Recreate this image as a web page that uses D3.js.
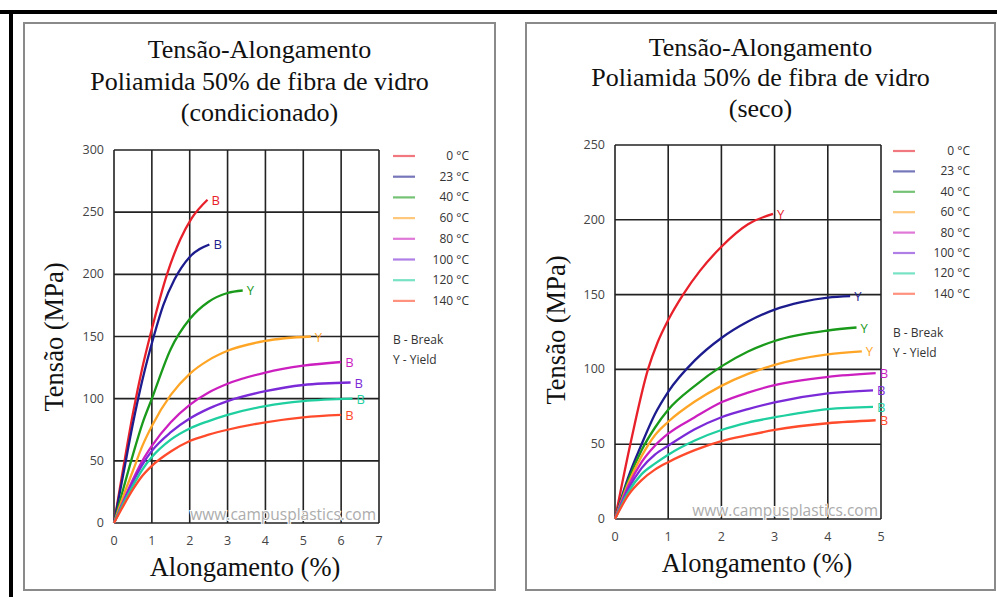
<!DOCTYPE html>
<html>
<head>
<meta charset="utf-8">
<script src="https://d3js.org/d3.v7.min.js"></script>
<style>
  body { margin: 0; background: #fff; }
  .title { font-family: "Liberation Serif", "DejaVu Serif", serif; fill: #111; }
  .tick { font-family: "Open Sans", "Noto Sans", sans-serif; font-size: 12.5px; fill: #444; }
  .leg { font-family: "Open Sans", "Noto Sans", sans-serif; font-size: 12px; fill: #333; }
</style>
</head>
<body>
<svg id="vis"></svg>
<script>
  var width = 997
  var height = 597

  var temps = ['0 °C', '23 °C', '40 °C', '60 °C', '80 °C', '100 °C', '120 °C', '140 °C']
  var colors = ['#e8202a', '#1c1c8e', '#1a9a1a', '#ffa526', '#cc1fbf', '#7b2ad8', '#1fcf9f', '#ff4b2b']

  // condicionado: [elongation %, stress MPa]
  var cond0 = [[0,0],[0.25,45],[0.5,88],[0.75,125],[1,156],[1.4,200],[1.75,228],[2.05,245],[2.47,260]]
  var cond23 = [[0,0],[0.25,40],[0.5,80],[0.75,115],[1.05,150],[1.3,175],[1.6,196],[2,214],[2.52,224]]
  var cond40 = [[0,0],[0.25,28],[0.5,55],[0.75,80],[1,100],[1.5,140],[2,164],[2.5,178],[3,185],[3.4,187]]
  var cond60 = [[0,0],[0.25,22],[0.5,42],[0.75,62],[1,78],[1.5,103],[2,120],[2.5,131],[3,138.5],[4,146.5],[5.2,150]]
  var cond80 = [[0,0],[0.25,18],[0.5,35],[0.75,50],[1,62],[1.5,81],[2,95],[2.5,105],[3,112],[4,121],[5,126.5],[6,129.5]]
  var cond100 = [[0,0],[0.25,17],[0.5,33],[0.75,47],[1,58],[1.5,73],[2,84],[2.5,92],[3,98],[4,106],[5,111],[6.25,113]]
  var cond120 = [[0,0],[0.25,16],[0.5,30],[0.75,43],[1,53],[1.5,67],[2,76],[2.5,82],[3,87],[4,94],[5,98],[6.3,100]]
  var cond140 = [[0,0],[0.25,14],[0.5,27],[0.75,38],[1,46],[1.5,57.5],[2,66],[2.5,71],[3,75],[4,81],[5,85],[6,87]]
  var condEnds = ['B', 'B', 'Y', 'Y', 'B', 'B', 'B', 'B']

  // seco
  var seco0 = [[0,0],[0.3,52],[0.62,100],[0.8,118],[1,133],[1.28,150],[1.6,166],[2,182],[2.5,197],[2.97,204]]
  var seco23 = [[0,0],[0.25,28],[0.5,50],[0.75,70],[1,85],[1.5,106],[2,121],[2.5,132],[3,140],[3.5,145],[4,148],[4.42,149]]
  var seco40 = [[0,0],[0.25,26],[0.5,46],[0.75,61],[1,73],[1.5,89],[2,102],[2.5,112],[3,119],[4,126],[4.54,128]]
  var seco60 = [[0,0],[0.25,24],[0.5,42],[0.75,56],[1,65],[1.5,78.5],[2,89],[2.5,97],[3,103],[4,110],[4.64,112]]
  var seco80 = [[0,0],[0.25,22],[0.5,38],[0.75,49],[1,57],[1.5,68],[2,78],[2.5,84.5],[3,89.5],[4,95],[4.9,97.5]]
  var seco100 = [[0,0],[0.25,20],[0.5,34],[0.75,43],[1,49],[1.5,60],[2,68],[2.5,73.5],[3,78],[4,84],[4.85,86]]
  var seco120 = [[0,0],[0.25,18],[0.5,30],[0.75,37],[1,43],[1.5,52.5],[2,59.5],[2.5,64.5],[3,68],[4,73.5],[4.85,75]]
  var seco140 = [[0,0],[0.25,16],[0.5,26],[0.75,33],[1,38],[1.5,46],[2,52],[2.5,56],[3,59.5],[4,64],[4.9,66]]
  var secoEnds = ['Y', 'Y', 'Y', 'Y', 'B', 'B', 'B', 'B']

  var titles1 = ['Tensão-Alongamento', 'Poliamida 50% de fibra de vidro', '(condicionado)']
  var titles2 = ['Tensão-Alongamento', 'Poliamida 50% de fibra de vidro', '(seco)']

  var svg = d3.select('#vis').attr('width', width).attr('height', height)

  // outer black frame (top and left)
  svg.append('rect').attr('x', 0).attr('y', 10).attr('width', width).attr('height', 4).attr('fill', '#000')
  svg.append('rect').attr('x', 9).attr('y', 10).attr('width', 4).attr('height', height).attr('fill', '#000')

  function drawPanel(p) {
    var g = svg.append('g')
    // panel border
    g.append('rect')
      .attr('x', p.box[0]).attr('y', p.box[1])
      .attr('width', p.box[2] - p.box[0]).attr('height', p.box[3] - p.box[1])
      .attr('fill', 'none').attr('stroke', '#8a8a8a').attr('stroke-width', 2)

    var cx = (p.box[0] + p.box[2]) / 2
    p.titles.forEach(function(t, i) {
      g.append('text').attr('class', 'title')
        .attr('x', cx).attr('y', p.titleY[i])
        .attr('text-anchor', 'middle').attr('font-size', 26)
        .text(t)
    })

    var x = d3.scaleLinear().domain([0, p.xMax]).range([p.plot[0], p.plot[2]])
    var y = d3.scaleLinear().domain([0, p.yMax]).range([p.plot[3], p.plot[1]])

    // grid
    var grid = g.append('g')
    grid.selectAll('.vx').data(d3.range(0, p.xMax + 1)).enter().append('line')
      .attr('x1', d => x(d)).attr('x2', d => x(d))
      .attr('y1', y(0)).attr('y2', y(p.yMax))
      .attr('stroke', '#222').attr('stroke-width', 1.6)
    grid.selectAll('.hy').data(d3.range(0, p.yMax + 1, 50)).enter().append('line')
      .attr('x1', x(0)).attr('x2', x(p.xMax))
      .attr('y1', d => y(d)).attr('y2', d => y(d))
      .attr('stroke', '#222').attr('stroke-width', 1.6)

    // watermark
    g.append('text').attr('x', x(p.xMax) - 3).attr('y', y(0) - 3)
      .attr('text-anchor', 'end')
      .attr('font-family', '"Open Sans", sans-serif').attr('font-size', 15.5)
      .attr('fill', '#acacac').attr('stroke', '#fff').attr('stroke-width', 2)
      .attr('paint-order', 'stroke')
      .text('www.campusplastics.com')

    // ticks
    g.selectAll('.xt').data(d3.range(0, p.xMax + 1)).enter().append('text')
      .attr('class', 'tick').attr('x', d => x(d)).attr('y', y(0) + 22)
      .attr('text-anchor', 'middle').text(d => d)
    g.selectAll('.yt').data(d3.range(0, p.yMax + 1, 50)).enter().append('text')
      .attr('class', 'tick').attr('x', x(0) - 10).attr('y', d => y(d) + 4)
      .attr('text-anchor', 'end').text(d => d)

    // curves
    var line = d3.line().x(d => x(d[0])).y(d => y(d[1])).curve(d3.curveMonotoneX)
    p.series.forEach(function(s, i) {
      g.append('path').attr('d', line(s))
        .attr('fill', 'none').attr('stroke', colors[i]).attr('stroke-width', 2.3)
      var last = s[s.length - 1]
      g.append('text')
        .attr('x', x(last[0]) + 4).attr('y', y(last[1]) + 5)
        .attr('font-family', '"Open Sans", sans-serif').attr('font-size', 13)
        .attr('fill', colors[i]).text(p.ends[i])
    })

    // axis labels
    g.append('text').attr('class', 'title')
      .attr('x', p.xLabel[0]).attr('y', p.xLabel[1])
      .attr('text-anchor', 'middle').attr('font-size', 26.5)
      .text('Alongamento (%)')
    g.append('text').attr('class', 'title')
      .attr('transform', 'translate(' + p.yLabel[0] + ',' + p.yLabel[1] + ') rotate(-90)')
      .attr('text-anchor', 'middle').attr('font-size', 26.5)
      .text('Tensão (MPa)')

    // legend
    var lg = g.append('g')
    temps.forEach(function(t, i) {
      var ly = p.leg[1] + i * p.leg[3]
      lg.append('line').attr('x1', p.leg[0]).attr('x2', p.leg[0] + 22)
        .attr('y1', ly).attr('y2', ly)
        .attr('stroke', colors[i]).attr('stroke-width', 2.2).attr('opacity', 0.6)
      lg.append('text').attr('class', 'leg')
        .attr('x', p.leg[2]).attr('y', ly + 4)
        .attr('text-anchor', 'end').text(t)
    })
    lg.append('text').attr('class', 'leg').attr('x', p.leg[0]).attr('y', p.leg[4]).text('B - Break')
    lg.append('text').attr('class', 'leg').attr('x', p.leg[0]).attr('y', p.leg[4] + 20).text('Y - Yield')
  }

  drawPanel({
    box: [24, 23, 495, 590],
    titles: titles1, titleY: [58, 90, 121],
    plot: [114, 150, 379, 523], xMax: 7, yMax: 300,
    series: [cond0, cond23, cond40, cond60, cond80, cond100, cond120, cond140],
    ends: condEnds,
    xLabel: [245, 576], yLabel: [63, 337],
    leg: [393, 156, 469, 20.7, 344]
  })

  drawPanel({
    box: [526, 23, 995, 590],
    titles: titles2, titleY: [56, 86, 117],
    plot: [615, 145, 881, 519], xMax: 5, yMax: 250,
    series: [seco0, seco23, seco40, seco60, seco80, seco100, seco120, seco140],
    ends: secoEnds,
    xLabel: [757, 572], yLabel: [565, 330],
    leg: [893, 151, 970, 20.4, 337]
  })
</script>
</body>
</html>
